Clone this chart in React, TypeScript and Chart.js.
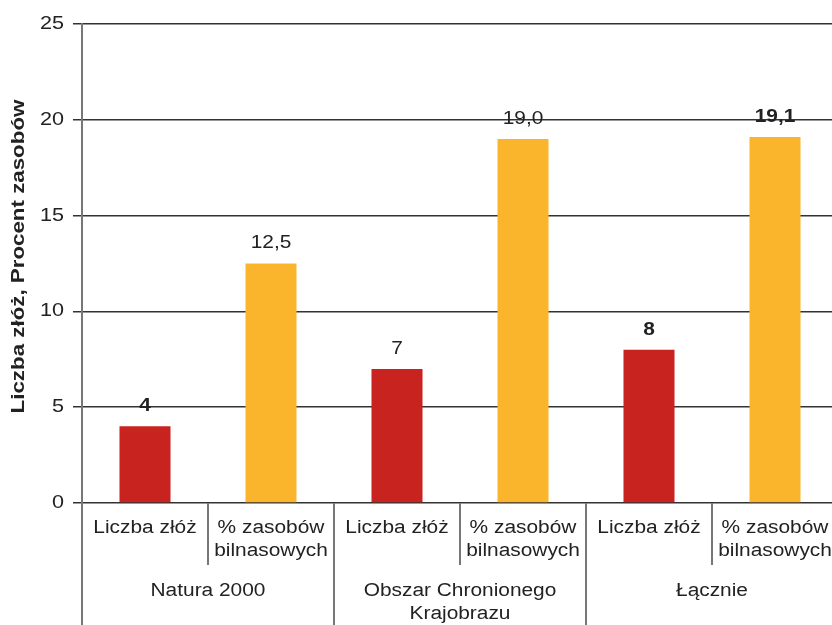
import React, { useEffect, useRef } from "react";
import { Chart, registerables } from "chart.js";

Chart.register(...registerables);

const subCategories: string[][] = [
  ["Liczba złóż"],
  ["% zasobów", "bilnasowych"],
  ["Liczba złóż"],
  ["% zasobów", "bilnasowych"],
  ["Liczba złóż"],
  ["% zasobów", "bilnasowych"],
];
const groups: string[][] = [["Natura 2000"], ["Obszar Chronionego", "Krajobrazu"], ["Łącznie"]];
const values: number[] = [4, 12.5, 7, 19.0, 8, 19.1];
const valueLabels: string[] = ["4", "12,5", "7", "19,0", "8", "19,1"];
const boldLabels: boolean[] = [true, false, false, false, true, true];
const yTicks: number[] = [0, 5, 10, 15, 20, 25];
const yTitle = "Liczba złóż, Procent zasobów";

const RED = "#C8231E";
const ORANGE = "#FBB52D";
const TEXT = "#222222";
const FONT = "'Liberation Sans', Arial, Helvetica, sans-serif";

function drawText(
  ctx: CanvasRenderingContext2D,
  text: string,
  x: number,
  y: number,
  opts: { size?: number; bold?: boolean; align?: CanvasTextAlign; sx?: number; rotate?: number }
) {
  const size = opts.size ?? 18;
  const sx = opts.sx ?? 1.16;
  ctx.save();
  ctx.translate(x, y);
  if (opts.rotate) ctx.rotate(opts.rotate);
  ctx.scale(sx, 1);
  ctx.font = `${opts.bold ? "bold " : ""}${size}px ${FONT}`;
  ctx.fillStyle = TEXT;
  ctx.textAlign = opts.align ?? "center";
  ctx.textBaseline = "middle";
  ctx.fillText(text, 0, 0);
  ctx.restore();
}

const customPlugin = {
  id: "customLabels",
  afterDraw(chart: any) {
    const ctx: CanvasRenderingContext2D = chart.ctx;
    const area = chart.chartArea;
    const yScale = chart.scales.y;
    const xScale = chart.scales.x;
    const n = subCategories.length;
    const catW = (area.right - area.left) / n;

    // y tick labels
    yTicks.forEach((v) => {
      const y = yScale.getPixelForValue(v);
      drawText(ctx, String(v), 64, y, { align: "right", sx: 1.2 });
    });

    // y title
    drawText(ctx, yTitle, 19, (area.top + area.bottom) / 2 - 7, {
      bold: true,
      rotate: -Math.PI / 2,
      sx: 1.24,
    });

    // value labels
    const meta = chart.getDatasetMeta(0);
    meta.data.forEach((bar: any, i: number) => {
      drawText(ctx, valueLabels[i], bar.x, bar.y - 20, { bold: boldLabels[i] });
    });

    // axis extension and separators
    ctx.save();
    ctx.strokeStyle = "#777777";
    ctx.lineWidth = 2;
    ctx.beginPath();
    ctx.moveTo(area.left, area.bottom);
    ctx.lineTo(area.left, chart.height);
    for (let i = 1; i <= n; i++) {
      const x = Math.round(area.left + i * catW);
      const isGroup = i % 2 === 0;
      ctx.moveTo(x, area.bottom);
      ctx.lineTo(x, isGroup ? chart.height : area.bottom + 62);
    }
    ctx.stroke();
    ctx.restore();

    // sub-category labels
    subCategories.forEach((lines, i) => {
      const cx = xScale.getPixelForValue(i);
      lines.forEach((line, j) => {
        drawText(ctx, line, cx, area.bottom + 25 + j * 23, {});
      });
    });

    // group labels
    groups.forEach((lines, g) => {
      const cx = area.left + (g * 2 + 1) * catW;
      lines.forEach((line, j) => {
        drawText(ctx, line, cx, area.bottom + 88 + j * 23, {});
      });
    });
  },
};

export default function App() {
  const ref = useRef<HTMLCanvasElement>(null);
  useEffect(() => {
    if (!ref.current) return;
    const chart = new Chart(ref.current, {
      type: "bar",
      data: {
        labels: subCategories.map((l, i) => groups[Math.floor(i / 2)].join(" ") + " – " + l.join(" ")),
        datasets: [
          {
            data: values,
            backgroundColor: values.map((_, i) => (i % 2 === 0 ? RED : ORANGE)),
            categoryPercentage: 1,
            barPercentage: 0.405,
          },
        ],
      },
      options: {
        responsive: false,
        animation: false,
        devicePixelRatio: 1,
        layout: { padding: { top: 24, bottom: 122, left: 0, right: 2 } },
        plugins: { legend: { display: false }, tooltip: { enabled: false } },
        scales: {
          x: { display: false },
          y: {
            min: 0,
            max: 25,
            ticks: { stepSize: 5, color: "rgba(0,0,0,0)", font: { size: 18 } },
            grid: { color: "#333333", lineWidth: 1.5, tickLength: 9, drawTicks: true },
            border: { display: true, color: "#777777", width: 2 },
            afterFit: (scale: any) => {
              scale.width = 82;
            },
          },
        },
      },
      plugins: [customPlugin],
    });
    return () => chart.destroy();
  }, []);
  return (
    <div style={{ position: "fixed", left: 0, top: 0, width: 832, height: 625, overflow: "hidden", background: "#fff" }}>
      <canvas ref={ref} width={840} height={625} style={{ display: "block" }} />
    </div>
  );
}
